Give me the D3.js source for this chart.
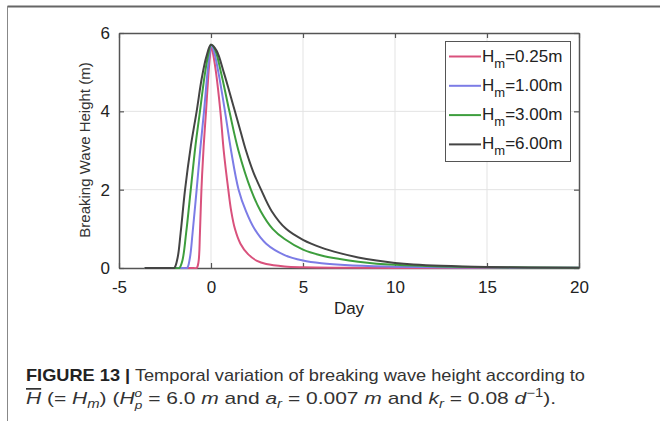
<!DOCTYPE html>
<html><head><meta charset="utf-8">
<script src="https://cdn.jsdelivr.net/npm/d3@7"></script>
<style>
body{margin:0;background:#fff;}
svg{display:block;font-family:"Liberation Sans",Arial,sans-serif;}
</style></head>
<body><svg id="c" width="660" height="421"></svg>
<script>
// ---- data ----
const xTicks = [-5, 0, 5, 10, 15, 20];
const yTicks = [0, 2, 4, 6];
const seriesNames = ["0.25m", "1.00m", "3.00m", "6.00m"];
const seriesColors = ["#d9517c", "#7c7ce6", "#3d9e3d", "#444444"];
const dayH025 = [-3.6,-2.5,-1.5,-0.95,-0.78,-0.68,-0.6,-0.52,-0.4,-0.27,-0.14,-0.05,0,0.12,0.27,0.51,0.69,0.94,1.1,1.3,1.6,2,2.5,3,4,5,7,10,20];
const valH025 = [0,0,0,0,0,0.15,0.9,2,3.1,4,4.95,5.45,5.7,5.45,5,4,3,2,1.45,1,0.62,0.36,0.18,0.1,0.04,0.02,0.008,0.003,0];
const dayH100 = [-3.6,-2.8,-2,-1.5,-1.3,-1.15,-1,-0.78,-0.57,-0.38,-0.2,-0.08,0,0.15,0.4,0.76,1.09,1.5,1.9,2.36,3,4,5,6,7.5,10,15,20];
const valH100 = [0,0,0,0,0,0.25,0.9,2,3.1,4,4.95,5.45,5.7,5.55,5,4,3,2,1.45,1,0.62,0.33,0.19,0.12,0.07,0.035,0.01,0.004];
const dayH300 = [-3.6,-3,-2.4,-1.9,-1.72,-1.55,-1.35,-1.1,-0.85,-0.6,-0.35,-0.15,0,0.2,0.54,1,1.49,2.17,2.7,3.35,4,5,6,7,8,9,10,12.5,15,20];
const valH300 = [0,0,0,0,0,0.2,0.9,2,3.1,4,4.9,5.45,5.7,5.6,5,4,3,2,1.45,1,0.74,0.47,0.32,0.23,0.16,0.11,0.08,0.04,0.02,0.006];
const dayH600 = [-3.6,-3.1,-2.6,-2.2,-2,-1.82,-1.65,-1.41,-1.1,-0.78,-0.5,-0.25,0,0.3,0.69,1,1.3,1.6,1.9,2.3,2.72,3.3,4.08,5,6,7,8,9,10,11,12.5,15,20];
const valH600 = [0,0,0,0,0,0.25,0.9,2,3.1,4,4.85,5.4,5.7,5.55,5,4.5,4,3.5,3,2.45,2,1.45,1,0.72,0.52,0.38,0.27,0.19,0.13,0.09,0.055,0.025,0.008];
const seriesDays = [dayH025, dayH100, dayH300, dayH600];
const seriesVals = [valH025, valH100, valH300, valH600];

const svg = d3.select("#c");
// page frame
svg.append("line").attr("x1",7.5).attr("x2",660).attr("y1",6.5).attr("y2",6.5).attr("stroke","#666").attr("stroke-width",2);
svg.append("line").attr("x1",7.5).attr("x2",7.5).attr("y1",6).attr("y2",421).attr("stroke","#888").attr("stroke-width",1);

const L=119, R=579, T=33, B=268;
const x = d3.scaleLinear().domain([-5,20]).range([L,R]);
const y = d3.scaleLinear().domain([0,6]).range([B,T]);

svg.append("defs").append("clipPath").attr("id","clip").append("rect")
  .attr("x",L).attr("y",T-5).attr("width",R-L).attr("height",B-T+6);

// grid
const g = svg.append("g");
g.selectAll(".gx").data(xTicks.slice(1,-1)).enter().append("line")
  .attr("x1",d=>x(d)).attr("x2",d=>x(d)).attr("y1",T).attr("y2",B).attr("stroke","#e3e3e3").attr("stroke-width",1);
g.selectAll(".gy").data(yTicks.slice(1,-1)).enter().append("line")
  .attr("x1",L).attr("x2",R).attr("y1",d=>y(d)).attr("y2",d=>y(d)).attr("stroke","#e3e3e3").attr("stroke-width",1);

// axes (box with inward ticks) drawn under curves
const axColor="#555";
const xb = svg.append("g").attr("transform",`translate(0,${B})`).call(d3.axisBottom(x).tickValues(xTicks).tickSizeInner(-5).tickSizeOuter(0).tickPadding(13));
const xt = svg.append("g").attr("transform",`translate(0,${T})`).call(d3.axisTop(x).tickValues(xTicks).tickSizeInner(-5).tickSizeOuter(0).tickFormat(""));
const yl = svg.append("g").attr("transform",`translate(${L},0)`).call(d3.axisLeft(y).tickValues(yTicks).tickSizeInner(-5).tickSizeOuter(0).tickPadding(9).tickFormat(d3.format("d")));
const yr = svg.append("g").attr("transform",`translate(${R},0)`).call(d3.axisRight(y).tickValues(yTicks).tickSizeInner(-5).tickSizeOuter(0).tickFormat(""));
[xb,xt,yl,yr].forEach(a=>{
  a.select(".domain").attr("stroke",axColor).attr("stroke-width",1.5);
  a.selectAll(".tick line").attr("stroke",axColor).attr("stroke-width",1.2);
  a.selectAll(".tick text").attr("fill","#222").attr("font-size",17).attr("font-family","Liberation Sans, Arial, sans-serif");
});
xb.selectAll(".tick text").text(d=>d<0?"-"+Math.abs(d):d);

// curves
const line = d3.line().x(d=>x(d[0])).y(d=>y(Math.max(0,d[1]))).curve(d3.curveCatmullRom.alpha(0.5));
const cg = svg.append("g").attr("clip-path","url(#clip)");
seriesDays.forEach((days,i)=>{
  const pts = days.map((d,j)=>[d, seriesVals[i][j]]);
  cg.append("path").datum(pts).attr("d",line).attr("fill","none")
    .attr("stroke",seriesColors[i]).attr("stroke-width",2);
});

// axis labels
svg.append("text").attr("x",x(7.5)).attr("y",314).attr("text-anchor","middle").attr("font-size",17).attr("fill","#222").text("Day");
svg.append("text").attr("transform","translate(90,150) rotate(-90)").attr("text-anchor","middle")
  .attr("font-size",15).attr("fill","#333").text("Breaking Wave Height (m)");

// legend
const lg = svg.append("g");
lg.append("rect").attr("x",445.5).attr("y",41.5).attr("width",125).attr("height",120).attr("fill","#fff").attr("stroke","#555").attr("stroke-width",1);
seriesNames.forEach((n,i)=>{
  const cy = 56.5 + i*29.3;
  lg.append("line").attr("x1",449).attr("x2",481).attr("y1",cy).attr("y2",cy).attr("stroke",seriesColors[i]).attr("stroke-width",2);
  const t = lg.append("text").attr("x",482).attr("y",cy+5).attr("font-size",17).attr("fill","#222");
  t.append("tspan").text("H");
  t.append("tspan").attr("font-size",13).attr("dy",6).text("m");
  t.append("tspan").attr("dy",-6).text("="+n);
});

// caption
const cap1 = svg.append("text").attr("x",26).attr("y",381).attr("font-size",17).attr("fill","#333")
  .attr("textLength",559).attr("lengthAdjust","spacingAndGlyphs");
cap1.append("tspan").attr("font-weight","bold").attr("fill","#222").text("FIGURE 13 |");
cap1.append("tspan").text(" Temporal variation of breaking wave height according to");

const cap2 = svg.append("text").attr("x",26).attr("y",404).attr("font-size",17).attr("fill","#333")
  .attr("textLength",530).attr("lengthAdjust","spacingAndGlyphs");
cap2.append("tspan").attr("font-style","italic").attr("text-decoration","overline").text("H");
cap2.append("tspan").text(" (= ");
cap2.append("tspan").attr("font-style","italic").text("H");
cap2.append("tspan").attr("font-style","italic").attr("font-size",12).attr("dy",4).text("m");
cap2.append("tspan").attr("dy",-4).text(") (");
cap2.append("tspan").attr("font-style","italic").text("H");
cap2.append("tspan").attr("font-style","italic").attr("font-size",11).attr("dy",-7).text("o");
cap2.append("tspan").attr("font-style","italic").attr("font-size",11).attr("dx",-6).attr("dy",12).text("p");
cap2.append("tspan").attr("dy",-5).text("  =  6.0 ");
cap2.append("tspan").attr("font-style","italic").text("m");
cap2.append("tspan").text(" and ");
cap2.append("tspan").attr("font-style","italic").text("a");
cap2.append("tspan").attr("font-style","italic").attr("font-size",12).attr("dy",4).text("r");
cap2.append("tspan").attr("dy",-4).text("  =  0.007 ");
cap2.append("tspan").attr("font-style","italic").text("m");
cap2.append("tspan").text(" and ");
cap2.append("tspan").attr("font-style","italic").text("k");
cap2.append("tspan").attr("font-style","italic").attr("font-size",12).attr("dy",4).text("r");
cap2.append("tspan").attr("dy",-4).text("  =  0.08 ");
cap2.append("tspan").attr("font-style","italic").text("d");
cap2.append("tspan").attr("font-size",12).attr("dy",-7).text("−1");
cap2.append("tspan").attr("dy",7).text(").");
</script></body></html>
